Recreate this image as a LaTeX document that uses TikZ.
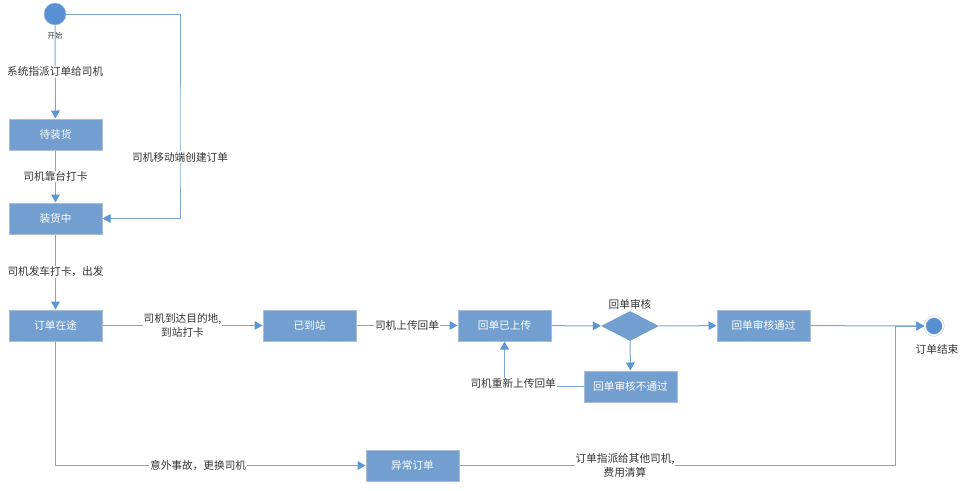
\documentclass[tikz,border=0pt]{standalone}
\usepackage{fontspec}
\setmainfont{Noto Sans CJK SC}
\usepackage{xcolor}
\usetikzlibrary{arrows.meta,shapes.geometric}

\definecolor{boxfill}{RGB}{114,159,207}
\definecolor{boxline}{RGB}{170,190,215}
\definecolor{flowline}{RGB}{125,166,214}
\definecolor{tipblue}{RGB}{91,150,214}
\definecolor{dotblue}{RGB}{88,144,212}
\definecolor{txtgray}{RGB}{51,51,51}

\tikzset{
  state/.style={rectangle, draw=boxline, line width=0.75pt, fill=boxfill, text=white,
    minimum width=69.75pt, minimum height=23.25pt, inner sep=0pt, font=\fontsize{8}{9}\selectfont},
  check/.style={diamond, fill=boxfill, aspect=1.93, minimum width=43.5pt, minimum height=22.5pt, inner sep=0pt},
  lbl/.style={fill=white, text=txtgray, inner sep=0.75pt, align=center, font=\fontsize{8}{10}\selectfont},
  flow/.style={draw=flowline, line width=0.75pt, -{Triangle[length=6pt,width=6.5pt,fill=tipblue,color=tipblue]}},
}

\begin{document}
\begin{tikzpicture}[x=0.75pt,y=0.75pt,yscale=-1,xscale=1]
\useasboundingbox (0,0) rectangle (964,490);

%Shape: Circle
\node [circle, fill=dotblue, draw=boxline, minimum size=16.5pt, inner sep=0pt] (start) at (55,14) {};
% Text Node
\node [text=txtgray, font=\fontsize{5.5}{6}\selectfont, inner sep=0.75pt] (startlbl) at (55,36) {开始};

%Shape: Rectangle
\node [state] (wait) at (55.5,134.5) {待装货};
\node [state] (load) at (55.5,218.5) {装货中};
\node [state] (transit) at (55.5,325.5) {订单在途};
\node [state] (arrived) at (309.5,325.5) {已到站};
\node [state] (upload) at (504.5,325.5) {回单已上传};
\node [state] (pass) at (763.5,325.5) {回单审核通过};
\node [state] (reject) at (630.5,386.5) {回单审核不通过};
\node [state] (abnormal) at (412.5,465.5) {异常订单};

%Shape: Diamond
\node [check] (audit) at (630,326) {};
% Text Node
\node [lbl] (auditlbl) at (630,304) {回单审核};

%Shape: Circle
\node [circle, fill=dotblue, draw=boxline!60, double=white, double distance=1pt, minimum size=14pt, inner sep=0pt] (finish) at (934,326) {};
% Text Node
\node [lbl] (finishlbl) at (937,349) {订单结束};

\coordinate (turnA) at (180,157);
\coordinate (merge) at (895,326);

%Straight Lines
\draw [flow] (start) -- (wait) node [lbl, midway] {系统指派订单给司机};
\draw [flow] (start) -| (turnA) node [lbl] {司机移动端创建订单} |- (load);
\draw [flow] (wait) -- (load) node [lbl, midway] {司机靠台打卡};
\draw [flow] (load) -- (transit) node [lbl, midway] {司机发车打卡，出发};
\draw [flow] (transit) -- (arrived) node [lbl, midway] {司机到达目的地,\\到站打卡};
\draw [flow] (arrived) -- (upload) node [lbl, midway] {司机上传回单};
\draw [flow] (upload) -- (audit);
\draw [flow] (audit) -- (pass);
\draw [flow] (audit) -- (reject);
\draw [flow] (reject) -| (upload) node [lbl, pos=0.5, xshift=6.5pt, yshift=2pt] {司机重新上传回单};
\draw [flow] (pass) -- (finish);
\draw [flow] (transit) |- (abnormal) node [lbl, pos=0.73] {意外事故，更换司机};
\draw [flow] (abnormal) -| (merge) node [lbl, pos=0.19] {订单指派给其他司机,\\费用清算} -- (finish);

\end{tikzpicture}
\end{document}
